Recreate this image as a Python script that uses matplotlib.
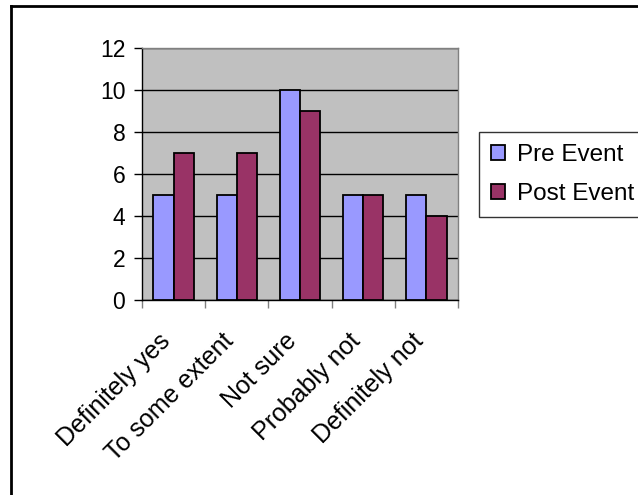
import matplotlib
matplotlib.use("Agg")
import matplotlib.pyplot as plt
from matplotlib.transforms import ScaledTranslation
import numpy as np

categories = ["Definitely yes", "To some extent", "Not sure", "Probably not", "Definitely not"]
pre_event = [5, 5, 10, 5, 5]
post_event = [7, 7, 9, 5, 4]
series_names = ["Pre Event", "Post Event"]

plt.rcParams['font.family'] = ['Liberation Sans', 'DejaVu Sans']

fig = plt.figure(figsize=(6.38, 4.95), dpi=100)
ax = fig.add_axes([142 / 638, 1 - 300 / 495, 316 / 638, 252 / 495])
ax.set_facecolor("#C0C0C0")

x = np.arange(len(categories))
w = 0.32
ax.bar(x - w / 2, pre_event, w, color="#9999FF", edgecolor="black", linewidth=1.3,
       label=series_names[0], zorder=3)
ax.bar(x + w / 2, post_event, w, color="#993366", edgecolor="black", linewidth=1.3,
       label=series_names[1], zorder=3)

ax.set_xlim(-0.5, len(categories) - 0.5)
ax.set_ylim(0, 12)
ax.set_yticks(range(0, 13, 2))
ax.yaxis.grid(True, color="black", linewidth=1, zorder=1)
ax.set_axisbelow(True)

# category ticks sit at the group boundaries, labels drawn as rotated text
ax.set_xticks(np.arange(-0.5, len(categories), 1))
ax.set_xticklabels([])
ax.tick_params(axis="x", length=6, width=1, direction="out", color="#808080")
ax.tick_params(axis="y", length=6, width=1, direction="out", labelsize=16.5, pad=6)

offset = ScaledTranslation(-11 / 72, -21 / 72, fig.dpi_scale_trans)
for i, cat in enumerate(categories):
    ax.text(x[i], 0, cat, transform=ax.get_xaxis_transform() + offset,
            rotation=45, ha="right", va="top", rotation_mode="anchor", fontsize=18)

for side in ["top", "right"]:
    ax.spines[side].set_color("#808080")
    ax.spines[side].set_linewidth(1)
for side in ["left", "bottom"]:
    ax.spines[side].set_color("black")
    ax.spines[side].set_linewidth(1)

leg = ax.legend(loc="upper left", bbox_to_anchor=(479 / 638, 1 - 132 / 495),
                bbox_transform=fig.transFigure, fontsize=17.5, frameon=True,
                fancybox=False, handlelength=0.55, handleheight=0.55,
                handletextpad=0.5, borderpad=0.5, labelspacing=0.7, borderaxespad=0)
leg.get_frame().set_edgecolor("black")
leg.get_frame().set_linewidth(1)

# outer chart border (left and top only visible)
fig.add_artist(plt.Line2D([11 / 638, 11 / 638], [0, 1 - 6 / 495], transform=fig.transFigure,
                          color="black", linewidth=2))
fig.add_artist(plt.Line2D([11 / 638, 1], [1 - 6 / 495, 1 - 6 / 495], transform=fig.transFigure,
                          color="black", linewidth=2))

fig.savefig("out.png", dpi=100)
